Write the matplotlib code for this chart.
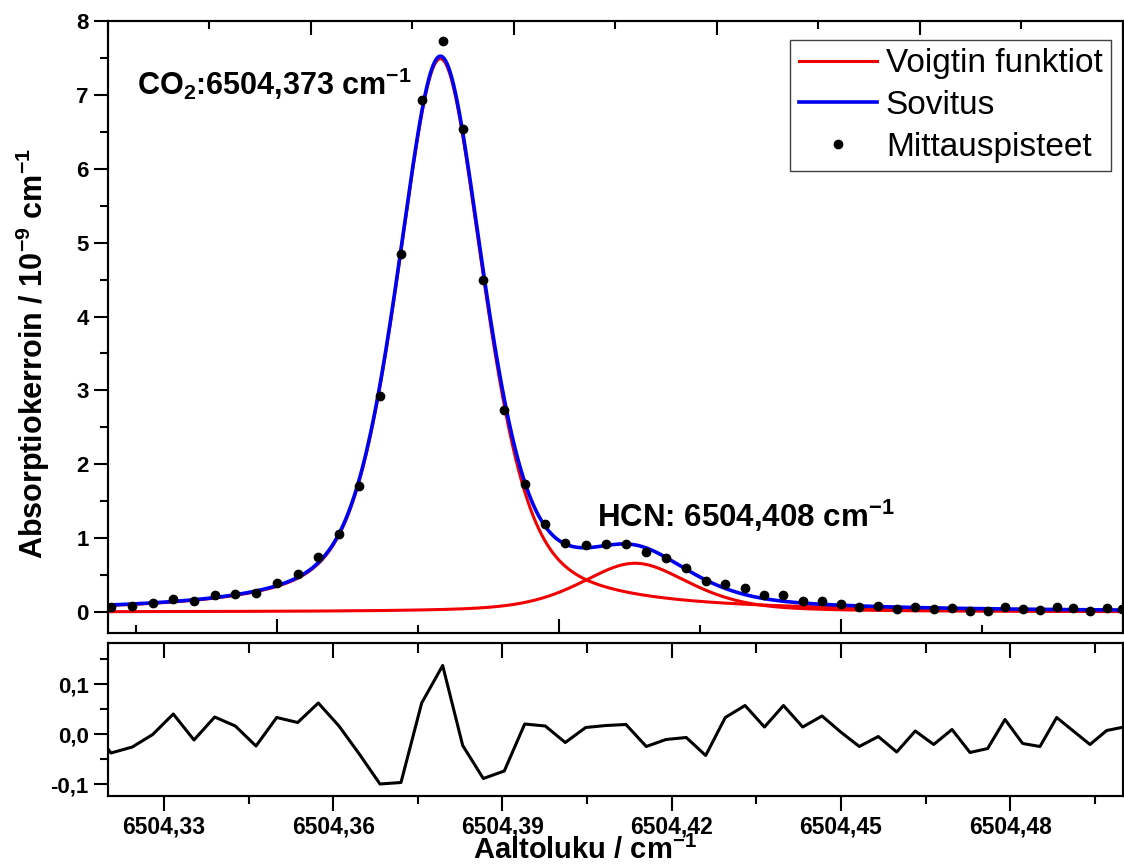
import numpy as np
import matplotlib
matplotlib.use("Agg")
import matplotlib.pyplot as plt
from matplotlib.ticker import FixedLocator, FuncFormatter

# ---------------- data ----------------
wavenumber = [6504.31699,
              6504.32062, 6504.32440, 6504.32801, 6504.33166, 6504.33533, 6504.33900, 6504.34265,
              6504.34632, 6504.34999, 6504.35371, 6504.35736, 6504.36103, 6504.36463, 6504.36830,
              6504.37202, 6504.37569, 6504.37941, 6504.38296, 6504.38661, 6504.39033, 6504.39395,
              6504.39760, 6504.40114, 6504.40476, 6504.40836, 6504.41190, 6504.41550, 6504.41899,
              6504.42259, 6504.42603, 6504.42950, 6504.43300, 6504.43645, 6504.43982, 6504.44322,
              6504.44665, 6504.44996, 6504.45326, 6504.45662, 6504.45989, 6504.46318, 6504.46644,
              6504.46969, 6504.47288, 6504.47601, 6504.47908, 6504.48222, 6504.48528, 6504.48824,
              6504.49119, 6504.49415, 6504.49711, 6504.49976]

absorption = [0.055,
              0.063, 0.08, 0.126, 0.18, 0.149, 0.225, 0.248, 0.252, 0.396, 0.51,
              0.74, 1.06, 1.71, 2.92, 4.85, 6.93, 7.73, 6.54, 4.50, 2.73,
              1.73, 1.19, 0.94, 0.905, 0.92, 0.915, 0.815, 0.725, 0.60, 0.42,
              0.38, 0.32, 0.23, 0.235, 0.15, 0.15, 0.11, 0.07, 0.08, 0.035,
              0.07, 0.04, 0.06, 0.014, 0.014, 0.07, 0.035, 0.027, 0.07, 0.05,
              0.018, 0.05, 0.04]

residual = [0.015,
            -0.038, -0.026, -0.001, 0.040, -0.012, 0.034, 0.016, -0.024, 0.033, 0.023,
            0.062, 0.016, -0.040, -0.100, -0.097, 0.062, 0.137, -0.023, -0.089, -0.074,
            0.020, 0.016, -0.017, 0.013, 0.017, 0.019, -0.025, -0.011, -0.007, -0.043,
            0.033, 0.057, 0.014, 0.057, 0.014, 0.036, 0.004, -0.025, -0.005, -0.036,
            0.006, -0.021, 0.009, -0.037, -0.029, 0.029, -0.019, -0.025, 0.033, 0.006,
            -0.021, 0.007, 0.013]

# fitted Voigt-profile parameters
co2_center, co2_amp, co2_hwhm, co2_eta = 6504.3790, 7.49, 0.0092, 0.5
hcn_center, hcn_amp, hcn_hwhm, hcn_eta = 6504.4135, 0.66, 0.0115, 0.5

x_range = (6504.32, 6504.50)
top_major = [6504.35, 6504.40, 6504.45, 6504.50]
top_minor = [6504.325, 6504.375, 6504.425, 6504.475]
bot_major = [6504.33, 6504.36, 6504.39, 6504.42, 6504.45, 6504.48]
bot_minor = [6504.315, 6504.345, 6504.375, 6504.405, 6504.435, 6504.465, 6504.495]

labels_legend = ["Voigtin funktiot", "Sovitus", "Mittauspisteet"]
co2_text = "CO$_2$:6504,373 cm$^{-1}$"
hcn_text = "HCN: 6504,408 cm$^{-1}$"
ylabel_text = "Absorptiokerroin / 10$^{-9}$ cm$^{-1}$"
xlabel_text = "Aaltoluku / cm$^{-1}$"

# ---------------- style ----------------
plt.rcParams['font.family'] = ['Liberation Sans', 'DejaVu Sans']
plt.rcParams['font.weight'] = 'bold'
plt.rcParams['mathtext.fontset'] = 'custom'
plt.rcParams['mathtext.rm'] = 'Liberation Sans:bold'
plt.rcParams['mathtext.bf'] = 'Liberation Sans:bold'
plt.rcParams['mathtext.default'] = 'bf'

W, H = 1124, 865
fig = plt.figure(figsize=(W / 100, H / 100), dpi=100)


def fx(px):
    return px / W


def fy(py):
    return 1 - py / H


L, R = 107.5, 1123.0
ax1 = fig.add_axes([fx(L), fy(633), (R - L) / W, (633 - 21) / H])
ax2 = fig.add_axes([fx(L), fy(796), (R - L) / W, (796 - 643) / H])

red = '#f00000'
blue = '#0000f0'


def pvoigt(x, c, a, w, eta):
    u = (x - c) / w
    return a * (eta / (1 + u ** 2) + (1 - eta) * np.exp(-np.log(2) * u ** 2))


xx = np.linspace(6504.30, 6504.52, 3000)
y_co2 = pvoigt(xx, co2_center, co2_amp, co2_hwhm, co2_eta)
y_hcn = pvoigt(xx, hcn_center, hcn_amp, hcn_hwhm, hcn_eta)

l_red, = ax1.plot(xx, y_co2, color=red, lw=2.2, zorder=2)
ax1.plot(xx, y_hcn, color=red, lw=2.2, zorder=2)
l_blue, = ax1.plot(xx, y_co2 + y_hcn, color=blue, lw=2.6, zorder=3)
l_pts, = ax1.plot(wavenumber, absorption, 'o', color='black', ms=6, zorder=4)

ax1.set_xlim(*x_range)
ax1.set_ylim(-0.284, 8)

spine_w = 1.5
for ax in (ax1, ax2):
    for s in ax.spines.values():
        s.set_linewidth(spine_w)

ax1.xaxis.set_major_locator(FixedLocator(top_major))
ax1.xaxis.set_minor_locator(FixedLocator(top_minor))
ax1.tick_params(axis='x', which='both', direction='in', bottom=True, top=False,
                labelbottom=False, width=1.5)
ax1.tick_params(axis='x', which='major', length=10)
ax1.tick_params(axis='x', which='minor', length=6)
ax1.yaxis.set_major_locator(FixedLocator(list(range(0, 9))))
ax1.yaxis.set_minor_locator(FixedLocator([i + 0.5 for i in range(-1, 8)]))
ax1.tick_params(axis='y', which='both', direction='out', left=True, right=False,
                width=1.5, labelsize=16)
ax1.tick_params(axis='y', which='major', length=10)
ax1.tick_params(axis='y', which='minor', length=6)

# top scale of the upper layer (unlabelled)
ax1t = ax1.twiny()
ax1t.set_xlim(0, 5)
ax1t.xaxis.set_major_locator(FixedLocator([0, 1, 2, 3, 4, 5]))
ax1t.xaxis.set_minor_locator(FixedLocator([0.5, 1.5, 2.5, 3.5, 4.5]))
ax1t.tick_params(axis='x', which='both', direction='in', top=True, bottom=False,
                 labeltop=False, labelbottom=False, width=1.5)
ax1t.tick_params(axis='x', which='major', length=10)
ax1t.tick_params(axis='x', which='minor', length=6)
for s in ax1t.spines.values():
    s.set_linewidth(spine_w)

# residual panel
ax2.plot(wavenumber, residual, color='black', lw=2.2)
ax2.set_xlim(*x_range)
ax2.set_ylim(-0.124, 0.182)
ax2.xaxis.set_major_locator(FixedLocator(bot_major))
ax2.xaxis.set_minor_locator(FixedLocator(bot_minor))
ax2.xaxis.set_major_formatter(FuncFormatter(lambda v, p: f"{v:.2f}".replace('.', ',')))
ax2.tick_params(axis='x', which='both', direction='out', top=False, width=1.5,
                labelsize=16.5, pad=3)
ax2.tick_params(axis='x', which='major', length=11)
ax2.tick_params(axis='x', which='minor', length=5.5)
ax2.yaxis.set_major_locator(FixedLocator([-0.1, 0.0, 0.1]))
ax2.yaxis.set_minor_locator(FixedLocator([-0.05, 0.05, 0.15]))
ax2.yaxis.set_major_formatter(FuncFormatter(lambda v, p: f"{v:.1f}".replace('.', ',').replace('\u2212', '-')))
ax2.tick_params(axis='y', which='both', direction='out', right=False, width=1.5,
                labelsize=16)
ax2.tick_params(axis='y', which='major', length=10)
ax2.tick_params(axis='y', which='minor', length=6)

ax2t = ax2.twiny()
ax2t.set_xlim(*x_range)
ax2t.xaxis.set_major_locator(FixedLocator(bot_major))
ax2t.xaxis.set_minor_locator(FixedLocator(bot_minor))
ax2t.tick_params(axis='x', which='both', direction='in', top=True, bottom=False,
                 labeltop=False, labelbottom=False, width=1.5)
ax2t.tick_params(axis='x', which='major', length=11)
ax2t.tick_params(axis='x', which='minor', length=7)
for s in ax2t.spines.values():
    s.set_linewidth(spine_w)

# annotations
fig.text(fx(137), fy(95), co2_text, fontsize=22, fontweight='bold', ha='left', va='baseline')
fig.text(fx(597), fy(527), hcn_text, fontsize=22.5, fontweight='bold', ha='left', va='baseline')

# axis labels
fig.text(fx(43), fy(354), ylabel_text, fontsize=22, fontweight='bold', rotation=90,
         rotation_mode='anchor', ha='center', va='baseline')
fig.text(fx(585), fy(859), xlabel_text, fontsize=21, fontweight='bold', ha='center', va='baseline')

# legend
leg = ax1t.legend([l_red, l_blue, l_pts], labels_legend, loc='upper right',
                  bbox_to_anchor=(fx(1111), fy(40)), bbox_transform=fig.transFigure,
                  prop={'weight': 'normal', 'size': 24}, frameon=True, fancybox=False,
                  numpoints=1, handlelength=2.35, handletextpad=0.27, labelspacing=0.32,
                  borderpad=0.25, borderaxespad=0)
leg.get_frame().set_edgecolor('#404040')
leg.get_frame().set_linewidth(1.0)
leg.get_frame().set_alpha(1)

fig.savefig("out.png", dpi=100)
